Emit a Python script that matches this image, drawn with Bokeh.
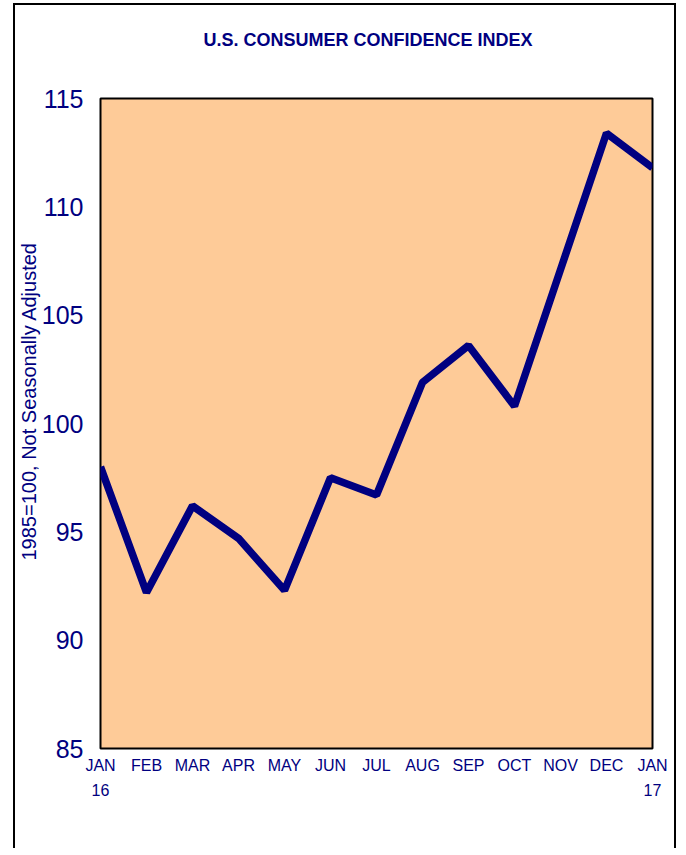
from bokeh.plotting import figure
from bokeh.models import Range1d, FixedTicker, Title
from bokeh.embed import file_html
from bokeh.resources import INLINE

# ---- data ----
months = ["JAN\n16", "FEB", "MAR", "APR", "MAY", "JUN", "JUL", "AUG",
          "SEP", "OCT", "NOV", "DEC", "JAN\n17"]
index_values = [98.0, 92.2, 96.2, 94.7, 92.3, 97.5, 96.7, 101.9,
                103.6, 100.8, 107.1, 113.4, 111.8]
y_ticks = [85, 90, 95, 100, 105, 110, 115]
title_text = "U.S. CONSUMER CONFIDENCE INDEX"
y_label_text = "1985=100, Not Seasonally Adjusted"

x_pos = list(range(len(months)))

NAVY = "#000080"
FONT = "Liberation Sans"

p = figure(width=663, height=845, output_backend="svg", toolbar_location=None,
           x_range=Range1d(0, len(months) - 1), y_range=Range1d(y_ticks[0], y_ticks[-1]),
           min_border_left=85, min_border_right=26, min_border_top=93,
           min_border_bottom=102,
           styles={"border-top": "2px solid black", "border-left": "2px solid black",
                   "border-right": "2px solid black",
                   "margin-left": "13px", "margin-top": "3px"})

p.background_fill_color = "#FECB98"
p.border_fill_color = "white"
p.outline_line_color = "black"
p.outline_line_width = 2
p.grid.visible = False

p.line(x_pos, index_values, line_color=NAVY, line_width=7.5)

# x axis
p.xaxis.ticker = FixedTicker(ticks=x_pos)
p.xaxis.major_label_overrides = {i: m for i, m in enumerate(months)}
p.xaxis.axis_line_color = None
p.xaxis.major_tick_line_color = None
p.xaxis.minor_tick_line_color = None
p.xaxis.major_label_standoff = 2
p.xaxis.major_label_text_font = FONT
p.xaxis.major_label_text_font_size = "16px"
p.xaxis.major_label_text_color = NAVY
p.xaxis.major_label_text_line_height = 1.5

# y axis
p.yaxis.ticker = FixedTicker(ticks=y_ticks)
p.yaxis.axis_line_color = None
p.yaxis.major_tick_line_color = None
p.yaxis.minor_tick_line_color = None
p.yaxis.major_label_standoff = 11
p.yaxis.major_label_text_font = FONT
p.yaxis.major_label_text_font_size = "25px"
p.yaxis.major_label_text_color = NAVY

# blank spacer between the plot area and the title
p.add_layout(Title(text=" ", standoff=27, text_font=FONT, text_font_size="18px"), "above")
# title and rotated y label
p.add_layout(Title(text=title_text, align="left", offset=103, standoff=0,
                   text_font=FONT, text_font_style="bold", text_font_size="18px",
                   text_color=NAVY), "above")
p.add_layout(Title(text=y_label_text, align="left", offset=188, standoff=-2,
                   text_font=FONT, text_font_style="normal", text_font_size="20px",
                   text_color=NAVY), "left")

open("out.html", "w").write(file_html(p, INLINE))
